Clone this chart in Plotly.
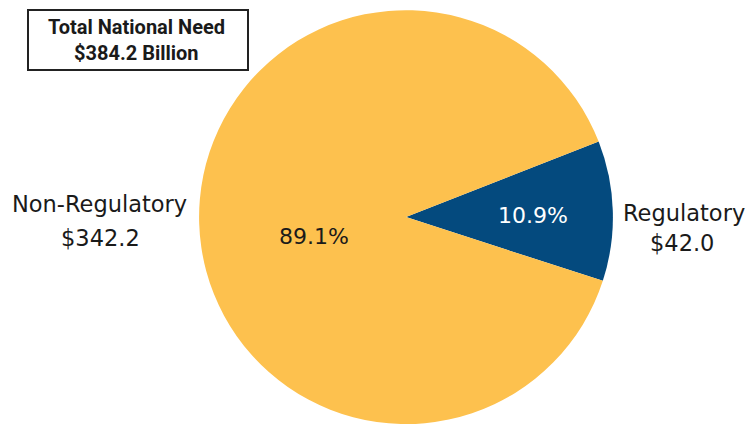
import plotly.graph_objects as go

categories = ["Regulatory", "Non-Regulatory"]
values = [42.0, 342.2]
colors = ["#044A7E", "#FDC14E"]
title_lines = ["Total National Need", "$384.2 Billion"]

total = sum(values)
pcts = [v / total * 100 for v in values]

W, H = 746, 424
FONT = "DejaVu Sans"
TFONT = "Roboto"

fig = go.Figure(go.Pie(
    labels=categories,
    values=values,
    sort=False,
    direction="clockwise",
    rotation=68.6,
    marker=dict(colors=colors, line=dict(width=0)),
    textinfo="none",
    hoverinfo="label+value+percent",
    domain=dict(x=[(406 - 260) / W, (406 + 260) / W], y=[0, 0.976]),
    showlegend=False,
))

def px(x, y):
    return x / W, 1 - y / H

anns = []
def add(text, x, y, size, color="#1a1a1a", bold=False, family=FONT):
    xx, yy = px(x, y)
    anns.append(dict(text=f"<b>{text}</b>" if bold else text, x=xx, y=yy, xref="paper", yref="paper",
                     showarrow=False, xanchor="center", yanchor="middle",
                     font=dict(family=family, size=size, color=color)))

# percent labels
add(f"{pcts[1]:.1f}%", 314, 236, 22)
add(f"{pcts[0]:.1f}%", 533, 215, 22, color="white")
# outside labels
add(categories[1], 99, 204, 22.5)
add(f"${values[1]:.1f}", 100, 238, 22.5)
add(categories[0], 684, 213, 22.5)
add(f"${values[0]:.1f}", 682, 243, 22.5)
# title box
add(title_lines[0], 136, 27, 20, bold=True, family=TFONT)
add(title_lines[1], 136, 53, 20, bold=True, family=TFONT)

x0, y1 = px(28, 10)
x1, y0 = px(248, 70)
fig.add_shape(type="rect", xref="paper", yref="paper", x0=x0, x1=x1, y0=y0, y1=y1,
              line=dict(color="#222222", width=2), fillcolor="white", layer="above")

fig.update_layout(
    width=W, height=H,
    margin=dict(l=0, r=0, t=0, b=0),
    paper_bgcolor="white",
    plot_bgcolor="white",
    annotations=anns,
)

fig.write_html("out.html", config={"displayModeBar": False},
               post_script="document.body.style.margin='0';document.body.style.overflow='hidden';")
